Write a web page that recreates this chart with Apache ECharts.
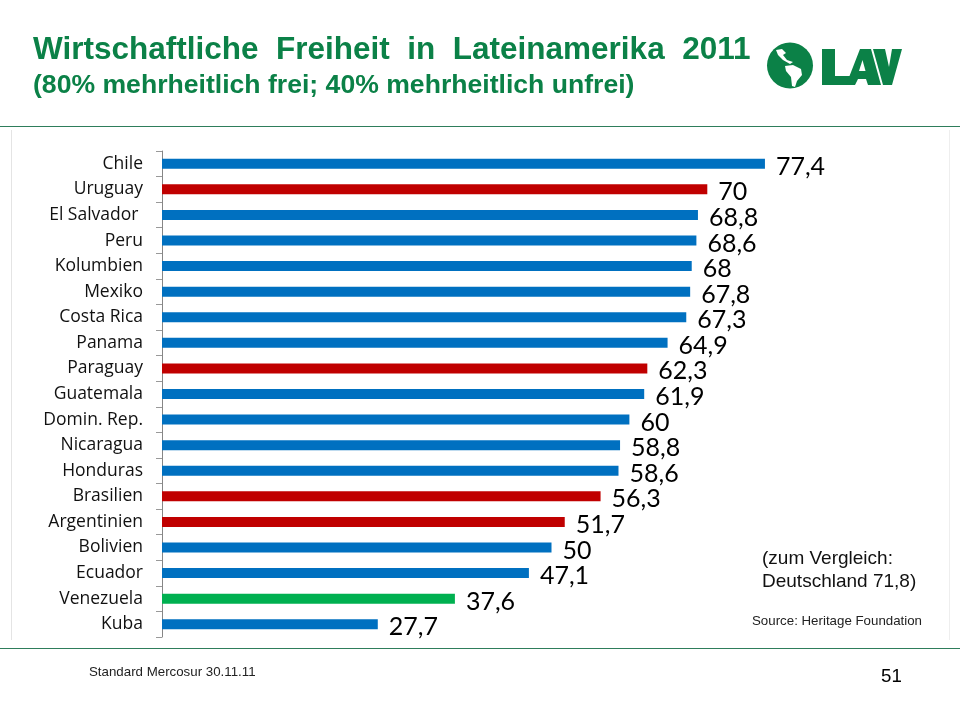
<!DOCTYPE html>
<html>
<head>
<meta charset="utf-8">
<style>html,body{margin:0;padding:0;background:#fff}#c{width:960px;height:720px}</style>
<script src="https://cdn.jsdelivr.net/npm/echarts@6/dist/echarts.min.js"></script>
</head>
<body>
<div id="c"></div>
<script>
var categories = ["Chile","Uruguay","El Salvador ","Peru","Kolumbien","Mexiko","Costa Rica","Panama","Paraguay","Guatemala","Domin. Rep.","Nicaragua","Honduras","Brasilien","Argentinien","Bolivien","Ecuador","Venezuela","Kuba"];
var values = [77.4,70,68.8,68.6,68,67.8,67.3,64.9,62.3,61.9,60,58.8,58.6,56.3,51.7,50,47.1,37.6,27.7];
var barColors = ["b","r","b","b","b","b","b","b","r","b","b","b","b","r","r","b","b","g","b"];
var palette = {b:"#0070C0", r:"#C00000", g:"#00B050"};
var GREEN = "#0B8147";

var chart = echarts.init(document.getElementById('c'), null, {renderer:'canvas'});
chart.setOption({
  animation:false,
  backgroundColor:'#fff',
  grid:{left:162, top:151, width:779, height:486, containLabel:false},
  xAxis:{type:'value', min:0, max:100, show:false},
  yAxis:{
    type:'category', inverse:true, data:categories,
    axisLine:{show:true, lineStyle:{color:'#868686', width:1}},
    axisTick:{show:true, length:6, lineStyle:{color:'#999'}},
    axisLabel:{color:'#111', fontFamily:'Open Sans', fontSize:17.5, margin:19, padding:[6,0,0,0]}
  },
  series:[{
    type:'bar',
    barWidth:10,
    data:values.map(function(v,i){return {value:v,itemStyle:{color:palette[barColors[i]]}};}),
    label:{show:true, position:'right', distance:11, color:'#000', fontFamily:'Lato', fontSize:25, offset:[0,3],
      formatter:function(p){return String(p.value).replace('.',',');}}
  }],
  graphic:[
    {type:'rect', shape:{x:0,y:126,width:960,height:1}, style:{fill:'#2E7D5B'}},
    {type:'rect', shape:{x:0,y:648,width:960,height:1}, style:{fill:'#2E7D5B'}},
    {type:'rect', shape:{x:11,y:130,width:1,height:510}, style:{fill:'#E4E4E4'}},
    {type:'rect', shape:{x:949,y:130,width:1,height:510}, style:{fill:'#EEEEEE'}},
    {type:'text', style:{x:33,y:34,text:'Wirtschaftliche  Freiheit  in  Lateinamerika  2011',fill:GREEN,font:'bold 31.5px "Liberation Sans"'}},
    {type:'text', style:{x:33,y:72,text:'(80% mehrheitlich frei; 40% mehrheitlich unfrei)',fill:GREEN,font:'bold 26.6px "Liberation Sans"'}},
    {type:'text', style:{x:762,y:549,text:'(zum Vergleich:',fill:'#111',font:'19px "Liberation Sans"'}},
    {type:'text', style:{x:762,y:572,text:'Deutschland 71,8)',fill:'#111',font:'19px "Liberation Sans"'}},
    {type:'text', style:{x:752,y:615,text:'Source: Heritage Foundation',fill:'#222',font:'13.3px "Liberation Sans"'}},
    {type:'text', style:{x:89,y:666,text:'Standard Mercosur 30.11.11',fill:'#222',font:'13.3px "Liberation Sans"'}},
    {type:'text', style:{x:881,y:667,text:'51',fill:'#000',font:'18.7px "Liberation Sans"'}},
    // logo
    {type:'circle', shape:{cx:790,cy:65.5,r:23}, style:{fill:GREEN}},
    {type:'polygon', shape:{points:[[776,50],[782,49],[786,53],[783,55],[787,60],[793,62],[790,64],[783,60],[778,55]]}, style:{fill:'#fff'}},
    {type:'polygon', shape:{points:[[785,66],[793,65],[801,69],[802,75],[797,81],[795,87],[792,86],[791,77],[786,71]]}, style:{fill:'#fff'}},
    {type:'polygon', shape:{points:[[822,49],[835,49],[835,76],[852,76],[847,85],[822,85]]}, style:{fill:GREEN}},
    {type:'polygon', shape:{points:[[846,85],[860,49],[871,49],[881,85],[868,85],[866,79],[858,79],[855,85]]}, style:{fill:GREEN}},
    {type:'polygon', shape:{points:[[859,71],[862.5,60],[865.5,71]]}, style:{fill:'#fff'}},
    {type:'polygon', shape:{points:[[873,49],[885,49],[889,67],[892,49],[902,49],[892,85],[883,85]]}, style:{fill:GREEN}}
  ]
});
</script>
</body>
</html>
